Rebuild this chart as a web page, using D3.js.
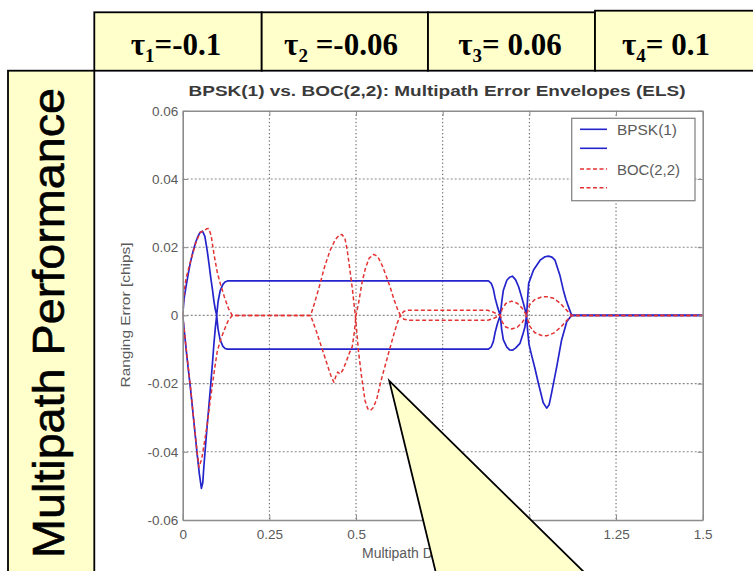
<!DOCTYPE html>
<html><head><meta charset="utf-8">
<script src="https://cdn.jsdelivr.net/npm/d3@7"></script>
<style>html,body{margin:0;padding:0;background:#fff;overflow:hidden}</style>
</head><body><svg id="c" width="753" height="571"></svg>
<script>
// ---------------- data ----------------
const TAU_SUBS = ["1", "2", "3", "4"];
const TAU_VALUES = ["=-0.1", " =-0.06", "= 0.06", "= 0.1"];
const SIDE_TITLE = "Multipath Performance";
const CHART_TITLE = "BPSK(1) vs. BOC(2,2): Multipath Error Envelopes (ELS)";
const X_LABEL = "Multipath Delay [chips]";
const Y_LABEL = "Ranging Error [chips]";
const X_TICKS = [0, 0.25, 0.5, 0.75, 1, 1.25, 1.5];
const X_TICK_LABELS = ["0", "0.25", "0.5", "0.75", "1", "1.25", "1.5"];
const Y_TICKS = [0.06, 0.04, 0.02, 0, -0.02, -0.04, -0.06];
const Y_TICK_LABELS = ["0.06", "0.04", "0.02", "0", "-0.02", "-0.04", "-0.06"];
const LEGEND_LABELS = ["BPSK(1)", "", "BOC(2,2)", ""];

// [multipath delay (chips), ranging error (chips)]
const bpskUpper = [
  [0,0],[0.004,0.005],[0.009,0.0081],[0.016,0.0122],[0.023,0.0159],[0.03,0.0188],[0.037,0.0213],
  [0.044,0.0232],[0.05,0.0243],[0.057,0.0247],[0.064,0.0232],[0.071,0.0188],[0.076,0.015],
  [0.081,0.011],[0.086,0.0075],[0.09,0.0042],[0.094,0.0018],[0.098,0],
  [0.102,0.004],[0.108,0.0072],[0.116,0.0091],[0.122,0.0098],[0.129,0.0101],[0.5,0.0101],
  [0.882,0.0101],[0.89,0.0094],[0.896,0.0078],[0.901,0.0052],[0.908,0.0025],[0.916,0],
  [0.921,0.0045],[0.925,0.0074],[0.935,0.0103],[0.943,0.0112],[0.951,0.0115],[0.96,0.0105],
  [0.969,0.0084],[0.976,0.006],[0.983,0.0035],[0.992,0],
  [0.995,0.005],[0.998,0.0094],[1.012,0.0133],[1.031,0.0162],[1.045,0.0172],[1.055,0.0174],
  [1.065,0.0171],[1.074,0.0162],[1.088,0.0118],[1.098,0.0074],[1.106,0.0045],[1.113,0.0025],
  [1.122,0],[1.5,0]
];
const bpskLower = [
  [0,0],[0.006,-0.006],[0.012,-0.012],[0.023,-0.022],[0.033,-0.032],[0.042,-0.041],[0.048,-0.0465],
  [0.054,-0.0507],[0.058,-0.049],[0.061,-0.0444],[0.066,-0.038],[0.071,-0.0318],[0.076,-0.026],
  [0.081,-0.0201],[0.086,-0.0138],[0.09,-0.0084],[0.094,-0.0038],[0.098,0],
  [0.102,-0.004],[0.108,-0.0072],[0.116,-0.0091],[0.122,-0.0097],[0.129,-0.0099],[0.5,-0.0099],
  [0.882,-0.0099],[0.89,-0.0092],[0.896,-0.0077],[0.901,-0.0051],[0.908,-0.0024],[0.916,0],
  [0.92,-0.004],[0.925,-0.0072],[0.935,-0.0093],[0.943,-0.0101],[0.951,-0.0102],[0.96,-0.0096],
  [0.973,-0.0082],[0.98,-0.006],[0.987,-0.0035],[0.992,0],
  [0.995,-0.0045],[0.999,-0.0085],[1.006,-0.0115],[1.016,-0.0155],[1.026,-0.0199],[1.04,-0.0256],
  [1.05,-0.0272],[1.057,-0.0262],[1.064,-0.0228],[1.079,-0.015],[1.093,-0.0072],[1.108,-0.0018],
  [1.122,0],[1.5,0]
];
const bocUpper = [
  [0,0],[0.004,0.007],[0.01,0.011],[0.023,0.016],[0.037,0.021],[0.05,0.0243],[0.062,0.0249],
  [0.069,0.0254],[0.075,0.0255],[0.082,0.0235],[0.09,0.0181],[0.1,0.0125],[0.109,0.0091],
  [0.12,0.0055],[0.132,0.002],[0.143,0],
  [0.369,0],[0.38,0.0035],[0.395,0.0088],[0.41,0.0145],[0.425,0.019],[0.44,0.0222],[0.452,0.0236],
  [0.46,0.0237],[0.468,0.0225],[0.474,0.0195],[0.479,0.0159],[0.489,0.0081],[0.498,0],
  [0.507,-0.0104],[0.516,-0.018],[0.526,-0.025],[0.534,-0.0274],[0.541,-0.0279],[0.55,-0.027],
  [0.56,-0.0245],[0.57,-0.02],[0.58,-0.0162],[0.59,-0.0125],[0.6,-0.0088],[0.61,-0.0052],
  [0.619,-0.0022],[0.628,0],
  [0.638,-0.0011],[0.65,-0.0014],[0.88,-0.0014],[0.895,-0.001],[0.906,-0.0004],[0.916,0],
  [0.922,-0.002],[0.932,-0.0034],[0.949,-0.004],[0.966,-0.0034],[0.98,-0.002],[0.992,0],
  [1.0,-0.003],[1.015,-0.005],[1.035,-0.0059],[1.05,-0.006],[1.07,-0.0052],[1.09,-0.0035],
  [1.105,-0.0018],[1.122,0],[1.5,0]
];
const bocLower = [
  [0,0],[0.004,-0.004],[0.012,-0.0115],[0.023,-0.0215],[0.033,-0.0318],[0.041,-0.0395],
  [0.047,-0.0445],[0.055,-0.042],[0.063,-0.037],[0.071,-0.0318],[0.078,-0.026],[0.086,-0.0201],
  [0.093,-0.015],[0.1,-0.0104],[0.11,-0.007],[0.119,-0.0045],[0.13,-0.0018],[0.143,0],
  [0.369,0],[0.385,-0.0045],[0.398,-0.0085],[0.407,-0.0113],[0.418,-0.0148],[0.428,-0.0178],
  [0.436,-0.0196],[0.442,-0.0178],[0.447,-0.0166],[0.454,-0.0172],[0.462,-0.016],[0.472,-0.0135],
  [0.481,-0.011],[0.489,-0.0092],[0.495,-0.005],[0.5,0],[0.508,0.004],[0.517,0.0095],
  [0.527,0.0138],[0.538,0.0168],[0.551,0.0179],[0.563,0.0172],[0.576,0.0145],[0.589,0.011],
  [0.599,0.0081],[0.61,0.0045],[0.619,0.002],[0.628,0],
  [0.638,0.0012],[0.65,0.0015],[0.88,0.0015],[0.895,0.001],[0.906,0.0004],[0.916,0],
  [0.922,0.002],[0.932,0.0035],[0.949,0.0042],[0.966,0.0035],[0.98,0.002],[0.992,0],
  [1.0,0.003],[1.015,0.0046],[1.035,0.0054],[1.05,0.0055],[1.07,0.005],[1.09,0.0035],
  [1.105,0.0018],[1.122,0],[1.5,0]
];
// callout tip location in data units
const CALLOUT_TIP = [0.596, -0.0192];

// ---------------- drawing ----------------
const svg = d3.select("#c");
const YELLOW = "#ffffcc";
const plot = {l: 182.7, r: 702.7, t: 110.8, b: 520};
const x = d3.scaleLinear().domain([0, 1.5]).range([plot.l, plot.r]);
const y = d3.scaleLinear().domain([-0.06, 0.06]).range([plot.b, plot.t]);

svg.append("rect").attr("width", 753).attr("height", 571).attr("fill", "#fff");

// header cells
const cells = [
  {x: 94.3, y: 12.3, w: 167.4, h: 58.4, cx: 176},
  {x: 261.7, y: 12.3, w: 166.3, h: 58.4, cx: 341},
  {x: 428, y: 12.3, w: 167, h: 58.4, cx: 510},
  {x: 595, y: 10.7, w: 175, h: 60, cx: 666}
];
const hg = svg.append("g");
hg.selectAll("rect").data(cells).join("rect")
  .attr("x", d => d.x).attr("y", d => d.y).attr("width", d => d.w).attr("height", d => d.h)
  .attr("fill", YELLOW).attr("stroke", "#000").attr("stroke-width", 1.8);
const ht = hg.selectAll("text").data(cells).join("text")
  .attr("x", d => d.cx).attr("y", 55).attr("text-anchor", "middle")
  .attr("font-family", "'Liberation Serif','Times New Roman',serif").attr("font-weight", "bold")
  .attr("font-size", 31).attr("fill", "#000");
ht.append("tspan").text("τ");
ht.append("tspan").attr("font-size", 19).attr("dy", 7).text((d, i) => TAU_SUBS[i]);
ht.append("tspan").attr("dy", -7).text((d, i) => TAU_VALUES[i]);

// left side box
svg.append("rect").attr("x", 8).attr("y", 70.7).attr("width", 86.3).attr("height", 540)
  .attr("fill", YELLOW).attr("stroke", "#000").attr("stroke-width", 1.8);
svg.append("text").attr("transform", "translate(64,323) rotate(-90)")
  .attr("text-anchor", "middle").attr("font-family", "'Liberation Sans',Arial,sans-serif")
  .attr("font-size", 44).attr("textLength", 470).attr("lengthAdjust", "spacingAndGlyphs")
  .attr("fill", "#000").attr("stroke", "#000").attr("stroke-width", 0.6).text(SIDE_TITLE);

// grid
const grid = svg.append("g");
grid.selectAll("line.h").data(Y_TICKS.filter(v => Math.abs(v) < 0.059)).join("line")
  .attr("class", "h").attr("x1", plot.l).attr("x2", plot.r)
  .attr("y1", d => y(d)).attr("y2", d => y(d))
  .attr("stroke", "#8a8a8a").attr("stroke-width", 1.1).attr("stroke-dasharray", "2,2");
grid.selectAll("line.v").data(X_TICKS.filter(v => v > 0.01 && v < 1.49)).join("line")
  .attr("class", "v").attr("y1", plot.t).attr("y2", plot.b)
  .attr("x1", d => x(d)).attr("x2", d => x(d))
  .attr("stroke", "#555").attr("stroke-width", 1).attr("stroke-dasharray", "1.3,2.4");

// curves
svg.append("clipPath").attr("id", "clip").append("rect")
  .attr("x", plot.l).attr("y", plot.t).attr("width", plot.r - plot.l).attr("height", plot.b - plot.t);
const line = d3.line().x(d => x(d[0])).y(d => y(d[1]));
const curves = svg.append("g").attr("clip-path", "url(#clip)");
const BLUE = "#2424cc", RED = "#e43232";
[bpskUpper, bpskLower].forEach(s => curves.append("path").attr("d", line(s))
  .attr("fill", "none").attr("stroke", BLUE).attr("stroke-width", 1.7).attr("stroke-linejoin", "round"));
[bocUpper, bocLower].forEach(s => curves.append("path").attr("d", line(s))
  .attr("fill", "none").attr("stroke", RED).attr("stroke-width", 1.5)
  .attr("stroke-dasharray", "4,2.5").attr("stroke-linejoin", "round"));

// axes
const AX = "#8c8c8c";
const FONT = "'Liberation Sans',Arial,Helvetica,sans-serif";
function styleAxis(g) {
  g.attr("font-family", FONT).attr("font-size", 13.5);
  g.select(".domain").attr("stroke", AX).attr("stroke-width", 1.6);
  g.selectAll(".tick line").attr("stroke", AX).attr("stroke-width", 1);
  g.selectAll(".tick text").attr("fill", "#5a5a5a");
}
svg.append("g").attr("transform", `translate(0,${plot.b})`)
  .call(d3.axisBottom(x).tickValues(X_TICKS).tickFormat((d, i) => X_TICK_LABELS[i])
    .tickSizeInner(-5).tickSizeOuter(0).tickPadding(9)).call(styleAxis);
svg.append("g").attr("transform", `translate(${plot.l},0)`)
  .call(d3.axisLeft(y).tickValues(Y_TICKS).tickFormat((d, i) => Y_TICK_LABELS[i])
    .tickSizeInner(-5).tickSizeOuter(0).tickPadding(4.5)).call(styleAxis);
svg.append("g").attr("transform", `translate(0,${plot.t})`)
  .call(d3.axisTop(x).tickValues(X_TICKS).tickFormat("").tickSizeInner(-5).tickSizeOuter(0)).call(styleAxis);
svg.append("g").attr("transform", `translate(${plot.r},0)`)
  .call(d3.axisRight(y).tickValues(Y_TICKS).tickFormat("").tickSizeInner(-5).tickSizeOuter(0)).call(styleAxis);

// title & labels
svg.append("text").attr("x", 437).attr("y", 95.5).attr("text-anchor", "middle")
  .attr("font-family", FONT).attr("font-weight", "bold").attr("font-size", 14)
  .attr("textLength", 497).attr("lengthAdjust", "spacingAndGlyphs")
  .attr("fill", "#3a3a3a").text(CHART_TITLE);
svg.append("text").attr("transform", "translate(125.5,315) rotate(-90)")
  .attr("text-anchor", "middle").attr("dominant-baseline", "central")
  .attr("font-family", FONT).attr("font-size", 12.5)
  .attr("textLength", 145).attr("lengthAdjust", "spacingAndGlyphs")
  .attr("fill", "#5a5a5a").text(Y_LABEL);
svg.append("text").attr("x", 362).attr("y", 558)
  .attr("font-family", FONT).attr("font-size", 14).attr("fill", "#5a5a5a").text(X_LABEL);

// legend
const lg = svg.append("g");
lg.append("rect").attr("x", 571.7).attr("y", 118.3).attr("width", 123.3).attr("height", 82.4)
  .attr("fill", "#fff").attr("stroke", "#888").attr("stroke-width", 1.3);
const rows = [129.3, 148.3, 169, 187.7];
const legStyles = [
  {c: BLUE, dash: null}, {c: BLUE, dash: null}, {c: RED, dash: "4,2.5"}, {c: RED, dash: "4,2.5"}
];
rows.forEach((ry, i) => {
  lg.append("line").attr("x1", 580).attr("x2", 607).attr("y1", ry).attr("y2", ry)
    .attr("stroke", legStyles[i].c).attr("stroke-width", 1.6)
    .attr("stroke-dasharray", legStyles[i].dash);
  if (LEGEND_LABELS[i]) {
    lg.append("text").attr("x", 617).attr("y", ry + 6).attr("font-family", FONT)
      .attr("font-size", 14).attr("fill", "#5a5a5a")
      .attr("textLength", i === 0 ? 60 : 63).attr("lengthAdjust", "spacingAndGlyphs")
      .text(LEGEND_LABELS[i]);
  }
});

// callout
const tipX = x(CALLOUT_TIP[0]), tipY = y(CALLOUT_TIP[1]);
const yEnd = 600;
const lx = tipX + (yEnd - tipY) * (45.7 / 188.3);
const rx = tipX + (yEnd - tipY) * (191.7 / 188.3);
svg.append("path").attr("d", `M${tipX},${tipY}L${rx},${yEnd}L${lx},${yEnd}Z`)
  .attr("fill", YELLOW).attr("stroke", "#000").attr("stroke-width", 1.8).attr("stroke-linejoin", "miter");
</script></body></html>
